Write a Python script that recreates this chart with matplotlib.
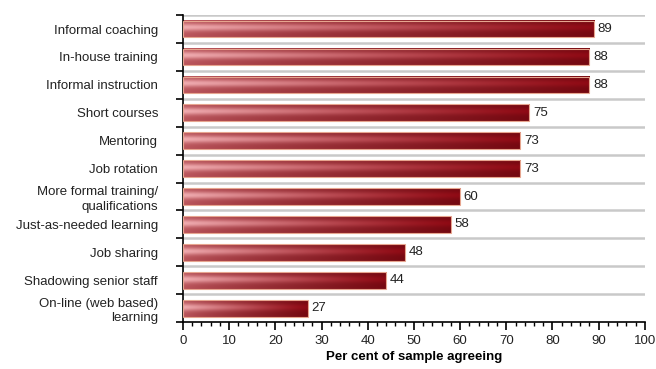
import numpy as np
import matplotlib
matplotlib.use("Agg")
import matplotlib.pyplot as plt
from matplotlib.patches import Rectangle
from matplotlib.ticker import MultipleLocator

# data, top to bottom
labels = ["Informal coaching", "In-house training", "Informal instruction",
          "Short courses", "Mentoring", "Job rotation",
          "More formal training/\nqualifications", "Just-as-needed learning",
          "Job sharing", "Shadowing senior staff",
          "On-line (web based)\nlearning"]
values = [89, 88, 88, 75, 73, 73, 60, 58, 48, 44, 27]

plt.rcParams["font.family"] = ["Liberation Sans", "DejaVu Sans"]

fig = plt.figure(figsize=(6.56, 3.69), dpi=100)
ax = fig.add_axes([0.279, 0.127, 0.704, 0.832])

n = len(values)
ypos = np.arange(n)
bar_h = 0.6

# gradient image for the shiny bars (pinkish red at left -> dark red at right)
light = np.array([0.90, 0.42, 0.45])
dark = np.array([0.56, 0.04, 0.08])
W, H = 200, 40
t = np.linspace(0, 1, W)[None, :, None]
s = np.linspace(0, 1, H)[:, None, None]
base = light + (dark - light) * t ** 0.7
hl = np.exp(-((s - 0.42) / 0.22) ** 2)
img = base * (0.82 + 0.18 * hl) + (1 - base) * 0.45 * hl * (1 - t) ** 1.5
img = np.clip(img, 0, 1)

# gray separators between categories
for b in np.arange(-0.5, n - 1, 1.0):
    ax.axhline(b, color="#c9c9c9", lw=1.8, zorder=1)

for y, v in zip(ypos, values):
    ax.imshow(img, extent=(0, v, y + bar_h / 2, y - bar_h / 2),
              aspect="auto", interpolation="bilinear", zorder=2)
    ax.add_patch(Rectangle((0, y - bar_h / 2), v, bar_h, fill=False,
                           edgecolor="#e7a58f", lw=0.8, zorder=3))
    ax.text(v + 0.8, y, str(v), va="center", ha="left", fontsize=9.5,
            color="#222222")

ax.set_xlim(0, 100)
ax.set_ylim(n - 0.5, -0.5)

ax.xaxis.set_major_locator(MultipleLocator(10))
ax.xaxis.set_minor_locator(MultipleLocator(2))
ax.tick_params(axis="x", which="major", length=6, width=1.2, labelsize=9.5,
               direction="out", pad=3, labelcolor="#222222")
ax.tick_params(axis="x", which="minor", length=3, width=1.0, direction="out")

# y: ticks at category boundaries, labels at centres
ax.set_yticks(np.arange(-0.5, n, 1.0))
ax.set_yticklabels([])
ax.set_yticks(ypos, minor=True)
ax.set_yticklabels(labels, minor=True, fontsize=9.5, linespacing=1.3,
                   color="#222222")
ax.tick_params(axis="y", which="major", length=5, width=1.2, direction="out")
ax.tick_params(axis="y", which="minor", length=0, pad=18)

for side in ["top", "right"]:
    ax.spines[side].set_visible(False)
for side in ["left", "bottom"]:
    ax.spines[side].set_linewidth(1.2)

ax.set_xlabel("Per cent of sample agreeing", fontsize=9.5, fontweight="bold",
              labelpad=3)

fig.savefig("out.png", dpi=100)
